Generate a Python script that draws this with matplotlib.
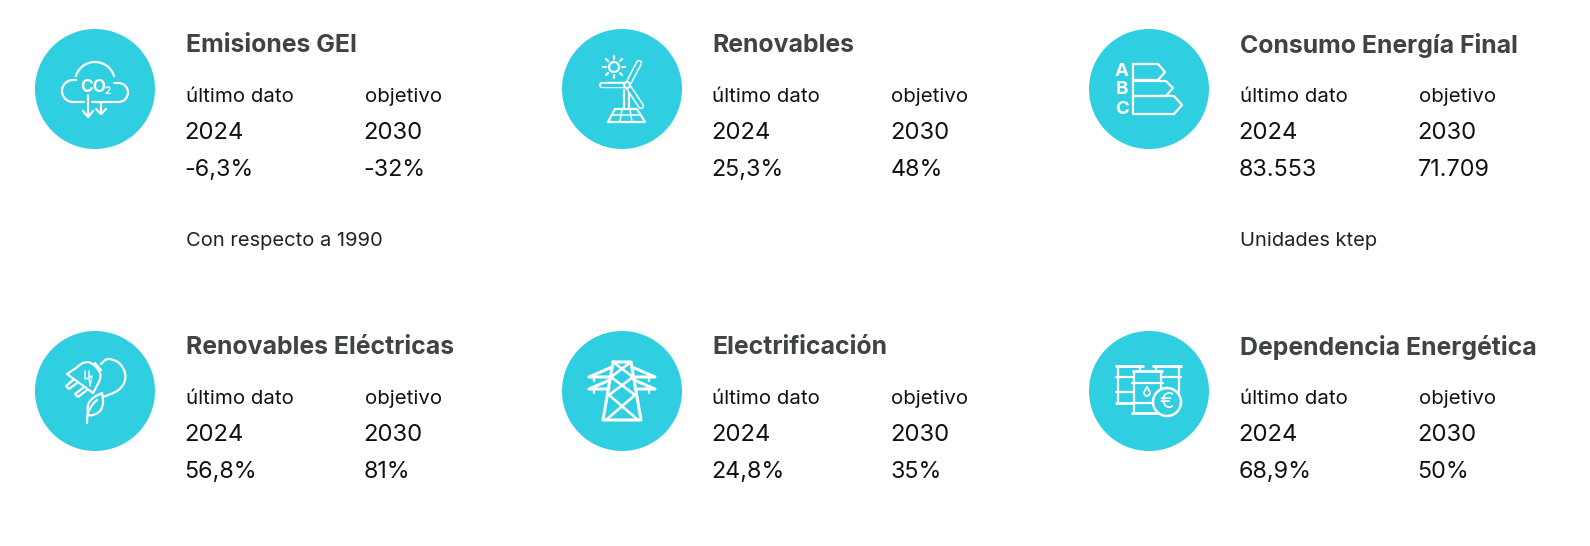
import matplotlib
matplotlib.use('Agg')
import matplotlib.pyplot as plt
import numpy as np
from matplotlib.patches import Circle, Arc

# KPI cards
titles = ['Emisiones GEI', 'Renovables', 'Consumo Energía Final',
          'Renovables Eléctricas', 'Electrificación', 'Dependencia Energética']
last_year = ['2024', '2024', '2024', '2024', '2024', '2024']
target_year = ['2030', '2030', '2030', '2030', '2030', '2030']
last_values = ['-6,3%', '25,3%', '83.553', '56,8%', '24,8%', '68,9%']
target_values = ['-32%', '48%', '71.709', '81%', '35%', '50%']
notes = ['Con respecto a 1990', '', 'Unidades ktep', '', '', '']

W, H = 1590, 546
CYAN = '#30cee1'
DARK = '#3f4442'
FONT = 'Inter'

col_x = [95, 622, 1149]
row_y = [89, 391]

fig = plt.figure(figsize=(W / 100, H / 100), dpi=100)
ax = fig.add_axes([0, 0, 1, 1])
ax.set_xlim(0, W)
ax.set_ylim(H, 0)
ax.axis('off')


def line(pts, cx, cy, lw=1.6, color='white', z=2):
    xs = [cx + p[0] for p in pts]
    ys = [cy + p[1] for p in pts]
    ax.plot(xs, ys, color=color, lw=lw, solid_capstyle='round', solid_joinstyle='round', zorder=z)


def smooth(pts, cx, cy, lw=1.6):
    # catmull-rom through the points, icons only
    p = np.array([pts[0]] + list(pts) + [pts[-1]], dtype=float)
    out = []
    for i in range(1, len(p) - 2):
        for t in np.linspace(0, 1, 12):
            out.append(0.5 * (2 * p[i] + (p[i + 1] - p[i - 1]) * t
                              + (2 * p[i - 1] - 5 * p[i] + 4 * p[i + 1] - p[i + 2]) * t ** 2
                              + (3 * p[i] - p[i - 1] - 3 * p[i + 1] + p[i + 2]) * t ** 3))
    line(out, cx, cy, lw)


def ring(cx, cy, r, lw=1.6):
    ax.add_patch(Circle((cx, cy), r, fill=False, ec='white', lw=lw))


def arc(cx, cy, w, h, a, b, lw=1.6):
    ax.add_patch(Arc((cx, cy), w, h, theta1=a, theta2=b, color='white', lw=lw))


def icon_cloud(cx, cy):
    # y axis is flipped, so angles run clockwise on screen
    arc(cx - 22, cy + 2, 22, 22, 90, 270)
    arc(cx, cy - 7, 40, 40, 195, 345)
    arc(cx + 23.5, cy + 3.5, 19, 19, 270, 90)
    line([(-22, 13), (-11, 13)], cx, cy)
    line([(-3, 13), (23, 13)], cx, cy)
    line([(-22, -9), (-19, -9)], cx, cy)
    line([(19, -6), (23, -6)], cx, cy)
    ax.text(cx - 2, cy - 2, 'CO', color='white', fontsize=12.5, fontweight='bold', family=FONT, ha='center', va='center')
    ax.text(cx + 13, cy + 2, '2', color='white', fontsize=7, fontweight='bold', family=FONT, ha='center', va='center')
    line([(-7, 6), (-7, 28)], cx, cy)
    line([(-12, 22), (-7, 28), (-2, 22)], cx, cy)
    line([(6, 13), (6, 25)], cx, cy)
    line([(1, 20), (6, 25), (11, 20)], cx, cy)


def blade(pts, cx, cy):
    line(pts, cx, cy, lw=4.6)
    line(pts, cx, cy, lw=2.4, color=CYAN, z=3)


def icon_wind(cx, cy):
    ring(cx - 8, cy - 22, 5)
    for a, b in [((-8, -33), (-8, -30)), ((-8, -14), (-8, -11)), ((-19, -22), (-16, -22)),
                 ((0, -22), (3, -22)), ((-16, -30), (-14, -28)), ((-2, -16), (0, -14)),
                 ((-16, -14), (-14, -16)), ((-2, -28), (0, -30))]:
        line([a, b], cx, cy)
    blade([(2, -4), (-20, -4)], cx, cy)
    blade([(7, -7), (17, -26)], cx, cy)
    blade([(7, -1), (19, 17)], cx, cy)
    ax.add_patch(Circle((cx + 5, cy - 4), 3, fc=CYAN, ec='white', lw=1.6, zorder=4))
    line([(2, 1), (2, 20)], cx, cy)
    line([(7, 4), (7, 20)], cx, cy)
    line([(-7, 20), (15, 20), (23, 33), (-14, 33), (-7, 20)], cx, cy)
    line([(-10, 26), (19, 26)], cx, cy, 1.1)
    line([(0, 20), (-2, 33)], cx, cy, 1.1)
    line([(8, 20), (10, 33)], cx, cy, 1.1)


def icon_label(cx, cy):
    for txt, dy in [('A', -17), ('B', 1), ('C', 20)]:
        ax.text(cx - 27, cy + dy, txt, color='white', fontsize=13.5, fontweight='bold', family=FONT, ha='center', va='center')
    line([(-16, -25), (9, -25), (16, -17), (9, -9), (-16, -9), (-16, -25)], cx, cy)
    line([(-16, -8), (17, -8), (24, -1), (17, 7), (-16, 7), (-16, -8)], cx, cy)
    line([(-16, 7), (25, 7), (33, 16), (25, 25), (-16, 25), (-16, 7)], cx, cy)


def icon_plug(cx, cy):
    smooth([(-28, -17), (-19, -23), (-12, -28), (-4, -28), (4, -20), (5, -12), (-2, 2)], cx, cy)
    line([(-28, -17), (-2, 2)], cx, cy)
    line([(0, -28), (6, -21)], cx, cy)
    line([(-22, -11), (-29, -5), (-26, -2), (-18, -8)], cx, cy)
    line([(-12, -3), (-20, 3), (-17, 6), (-8, -1)], cx, cy)
    line([(-10, -20), (-10, -12), (-6, -13), (-5, -5), (-3, -15), (-6, -14), (-6, -20)], cx, cy, 1.0)
    smooth([(6, -27), (13, -32), (24, -28), (30, -18), (29, -8), (22, 0), (8, 6)], cx, cy)
    smooth([(7, 2), (-2, 7), (-7, 14), (-7, 24)], cx, cy)
    smooth([(7, 2), (8, 12), (5, 20), (-2, 24), (-7, 24)], cx, cy)
    smooth([(-8, 32), (-7, 22), (-2, 13), (2, 9)], cx, cy)


def icon_tower(cx, cy):
    line([(-9, -29), (9, -29), (19, 29), (-19, 29), (-9, -29)], cx, cy, 2.2)
    line([(-9, -29), (11, -14), (-13, 4), (16, 29)], cx, cy, 1.9)
    line([(9, -29), (-11, -14), (13, 4), (-16, 29)], cx, cy, 1.9)
    line([(-10, -24), (-33, -14), (-11, -14)], cx, cy, 2.2)
    line([(10, -24), (33, -14), (11, -14)], cx, cy, 2.2)
    line([(-12, -11), (-33, -2), (-13, -2)], cx, cy, 2.2)
    line([(12, -11), (33, -2), (13, -2)], cx, cy, 2.2)
    for sx in (-28, 27):
        line([(sx, -14), (sx, -10)], cx, cy)
        line([(sx, -2), (sx, 2)], cx, cy)


def icon_barrels(cx, cy):
    line([(-33, -25), (-6, -25)], cx, cy, 2)
    line([(-31, -25), (-31, 12)], cx, cy)
    line([(-9, -25), (-9, -20)], cx, cy)
    line([(-33, -14), (-16, -14)], cx, cy)
    line([(-33, 1), (-16, 1)], cx, cy)
    line([(-33, 12), (-16, 12)], cx, cy, 2)
    line([(4, -25), (32, -25)], cx, cy, 2)
    line([(7, -25), (7, -20)], cx, cy)
    line([(30, -25), (30, 1)], cx, cy)
    line([(13, -14), (32, -14)], cx, cy)
    line([(-15, -20), (-15, 22)], cx, cy)
    line([(12, -20), (12, 0)], cx, cy)
    line([(-16, -20), (13, -20)], cx, cy, 2)
    line([(-17, -8), (14, -8)], cx, cy)
    line([(-17, 12), (3, 12)], cx, cy)
    line([(-17, 22), (8, 22)], cx, cy, 2)
    # oil drop
    smooth([(-2, -4), (-5, 2), (-2, 5), (1, 2), (-2, -4)], cx, cy, 1.3)
    ax.add_patch(Circle((cx + 18, cy + 11), 14, fc=CYAN, ec='white', lw=1.8, zorder=4))
    ax.text(cx + 18, cy + 11, '€', color='white', fontsize=16, family=FONT, ha='center', va='center', zorder=5)


icons = [icon_cloud, icon_wind, icon_label, icon_plug, icon_tower, icon_barrels]

for i, title in enumerate(titles):
    cx = col_x[i % 3]
    cy = row_y[i // 3]
    ax.add_patch(Circle((cx, cy), 60, fc=CYAN, ec='none'))
    icons[i](cx, cy)

    tx = cx + 91
    tx2 = cx + 270
    ax.text(tx - 0.5, cy - 43.5, title, color=DARK, fontsize=17.9, fontweight='bold', family=FONT, va='center')
    ax.text(tx - 0.5, cy + 7.5, 'último dato', color='#111111', fontsize=14.7, family=FONT, va='center')
    ax.text(tx2 - 0.5, cy + 7.5, 'objetivo', color='#111111', fontsize=14.7, family=FONT, va='center')
    ax.text(tx - 2, cy + 44, last_year[i], color='#111111', fontsize=17.2, family=FONT, va='center')
    ax.text(tx2 - 2, cy + 44, target_year[i], color='#111111', fontsize=17.2, family=FONT, va='center')
    ax.text(tx - 1.5, cy + 81.5, last_values[i], color='#111111', fontsize=16.8, family=FONT, va='center')
    ax.text(tx2 - 1.5, cy + 81.5, target_values[i], color='#111111', fontsize=16.8, family=FONT, va='center')
    if notes[i]:
        ax.text(tx, cy + 152.5, notes[i], color='#222222', fontsize=14.5, family=FONT, va='center')

fig.savefig('out.png', dpi=100)
